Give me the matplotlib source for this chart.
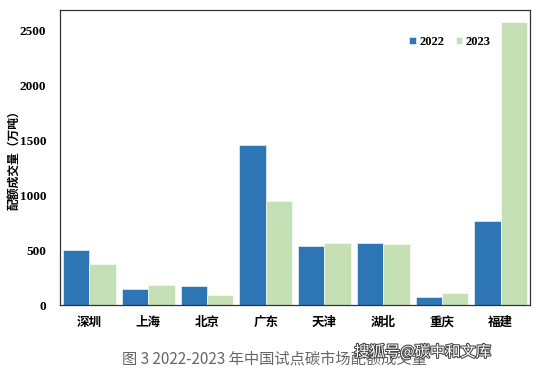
import matplotlib
matplotlib.use("Agg")
import matplotlib.pyplot as plt
import matplotlib.patheffects as pe
import numpy as np

plt.rcParams['font.family'] = ['Noto Sans CJK SC', 'DejaVu Sans']

regions = ['深圳', '上海', '北京', '广东', '天津', '湖北', '重庆', '福建']
v2022 = [502, 149, 173, 1457, 541, 568, 70, 764]
v2023 = [374, 182, 88, 946, 568, 559, 109, 2582]
yticks = [0, 500, 1000, 1500, 2000, 2500]

fig = plt.figure(figsize=(5.41, 3.68), dpi=100)
ax = fig.add_axes([0.111, 0.171, 0.869, 0.802])

x = np.arange(len(regions))
w = 0.45
ax.bar(x - w / 2, v2022, w, color='#2E75B6', label='2022', edgecolor='white', linewidth=0.4)
ax.bar(x + w / 2, v2023, w, color='#C5E0B4', label='2023', edgecolor='white', linewidth=0.4)

ax.set_xlim(-0.5, len(regions) - 0.5)
ax.set_ylim(0, 2690)
ax.set_yticks(yticks)
ax.set_yticklabels([str(t) for t in yticks], family='Liberation Serif',
                   fontweight='bold', fontsize=9.5)
ax.set_xticks(x)
ax.set_xticklabels(regions, fontweight='bold', fontsize=9)
ax.tick_params(length=0, pad=8)
ax.tick_params(axis='y', pad=10)

for s in ax.spines.values():
    s.set_color('#333333')
    s.set_linewidth(0.9)

ax.set_ylabel('配额成交量（万吨）', fontweight='bold', fontsize=8.5)
ax.yaxis.set_label_coords(-0.085, 0.5)

leg = ax.legend(loc='upper right', bbox_to_anchor=(0.94, 0.95), ncol=2, frameon=False,
                handlelength=0.5, handleheight=0.5, handletextpad=0.3, columnspacing=0.9,
                prop={'family': 'Liberation Serif', 'weight': 'bold', 'size': 9})

caption = '图 3 2022-2023 年中国试点碳市场配额成交量'
fig.text(0.225, 0.024, caption, fontsize=11, color='#666666', ha='left', va='center')
fig.text(0.655, 0.043, '搜狐号@碳中和文库', fontsize=11, color='white', ha='left', va='center',
         path_effects=[pe.withStroke(linewidth=1.5, foreground='#444444')])

plt.savefig('out.png', dpi=100)
